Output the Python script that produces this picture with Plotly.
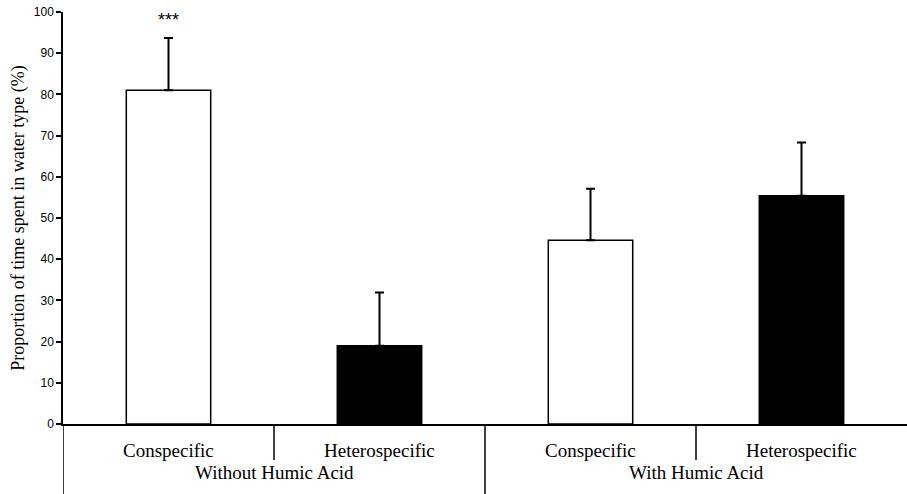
import plotly.graph_objects as go

# Data
groups = ["Without Humic Acid", "With Humic Acid"]
water_types = ["Conspecific", "Heterospecific", "Conspecific", "Heterospecific"]
proportions = [81.0, 19.0, 44.6, 55.4]
std_errors = [12.7, 12.9, 12.5, 12.9]
bar_colors = ["white", "black", "white", "black"]
y_ticks = [0, 10, 20, 30, 40, 50, 60, 70, 80, 90, 100]
significance = ["***", "", "", ""]

xpos = list(range(len(proportions)))

W, H = 907, 494
ml, mr, mt, mb = 63, 0, 12, 70
plot_h = H - mt - mb

def py(px_below):
    # paper coordinate for a pixel offset below the x axis
    return -px_below / plot_h

serif = "Liberation Serif, Times New Roman, serif"
sans = "Liberation Sans, Arial, sans-serif"

fig = go.Figure()
fig.add_trace(go.Bar(
    x=xpos, y=proportions, width=0.40,
    marker=dict(color=bar_colors, line=dict(color="black", width=1.5)),
    error_y=dict(type="data", symmetric=False, array=std_errors,
                 arrayminus=[0] * len(std_errors),
                 color="black", thickness=2, width=4.5),
    showlegend=False,
    hoverinfo="skip",
))

# significance marks
for x, s in zip(xpos, significance):
    if s:
        fig.add_annotation(x=x, y=98.0, text=s, showarrow=False,
                           font=dict(family=sans, size=18, color="black"),
                           xref="x", yref="y", yanchor="middle")

# category labels
for x, lab in zip(xpos, water_types):
    fig.add_annotation(x=x, y=py(26), text=lab, showarrow=False,
                       xref="x", yref="paper", yanchor="middle",
                       font=dict(family=serif, size=19, color="black"))
for gi, g in enumerate(groups):
    fig.add_annotation(x=2 * gi + 0.5, y=py(48), text=g, showarrow=False,
                       xref="x", yref="paper", yanchor="middle",
                       font=dict(family=serif, size=19, color="black"))

# divider lines in category area
n = len(xpos)
for i in range(n):
    xb = i - 0.5
    long_line = (i % 2 == 0)
    fig.add_shape(type="line", xref="x", yref="paper",
                  x0=xb, x1=xb, y0=0, y1=py(70 if long_line else 36),
                  line=dict(color="black", width=1.5))

fig.update_layout(
    width=W, height=H,
    margin=dict(l=ml, r=mr, t=mt, b=mb, autoexpand=False),
    paper_bgcolor="white", plot_bgcolor="white",
    bargap=0.6,
    xaxis=dict(range=[-0.5, n - 0.5], showticklabels=False, ticks="",
               showgrid=False, zeroline=False, showline=True,
               linecolor="black", linewidth=1.5, automargin=False),
    yaxis=dict(range=[0, 100], tickvals=y_ticks, ticks="outside", ticklen=5,
               tickwidth=1.5, tickcolor="black", showgrid=False,
               zeroline=False, showline=True, linecolor="black", linewidth=1.5,
               automargin=False, ticklabeloverflow="allow",
               tickfont=dict(family=sans, size=12, color="black"),
               title=dict(text="Proportion of time spent in water type (%)",
                          font=dict(family=serif, size=18, color="black"),
                          standoff=5)),
)

fig.write_html("out.html",
               config={"displayModeBar": False},
               post_script="document.body.style.margin='0';document.body.style.overflow='hidden';")
